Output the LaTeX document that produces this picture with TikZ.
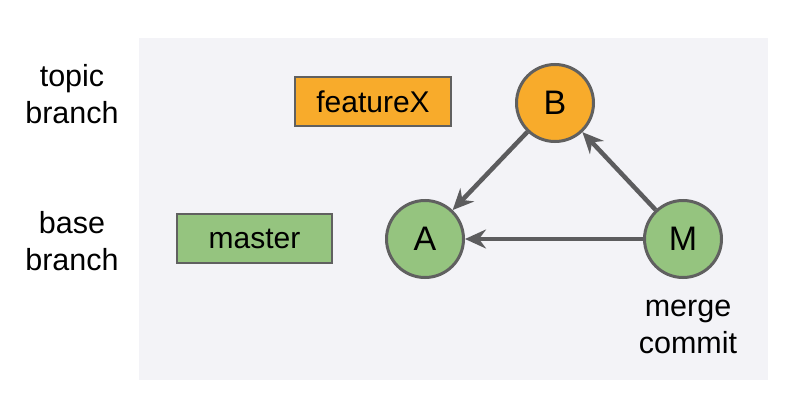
\documentclass[tikz,border=0pt]{standalone}
\usepackage{fontspec}
\setmainfont{Liberation Sans}
\usetikzlibrary{arrows.meta}
\definecolor{panel}{HTML}{F3F3F7}
\definecolor{orangefill}{HTML}{F8AB2B}
\definecolor{greenfill}{HTML}{95C47F}
\definecolor{edgegray}{HTML}{5C5C5E}
\definecolor{bordergray}{HTML}{606060}
\begin{document}
\begin{tikzpicture}[x=1pt,y=-1pt,
  commit/.style={circle,draw=bordergray,line width=3pt,minimum size=77pt,inner sep=0pt,font=\fontsize{34}{38}\selectfont},
  label/.style={rectangle,draw=bordergray,line width=2.5pt,inner sep=0pt,font=\fontsize{30}{34}\selectfont},
  side/.style={align=center,font=\fontsize{30.5}{37}\selectfont},
  link/.style={draw=edgegray,line width=4.5pt,-{Stealth[length=21pt,width=19pt,inset=7pt]}}]
\useasboundingbox (0,0) rectangle (808,412);
\fill[panel] (139,38) rectangle (768,380);
\node[label,fill=orangefill,minimum width=156pt,minimum height=49pt] (fx) at (373,101.5) {featureX};
\node[label,fill=greenfill,minimum width=155pt,minimum height=49pt] (ms) at (254.5,238.5) {master};
\node[commit,fill=orangefill] (B) at (555,103) {B};
\node[commit,fill=greenfill] (A) at (425,239) {A};
\node[commit,fill=greenfill] (M) at (683,239) {M};
\node[side] (tb) at (72,94) {topic\\branch};
\node[side] (bb) at (72,241) {base\\branch};
\node[side] (mc) at (688,327) {merge\\commit};
\draw[link] (B) -- (A);
\draw[link] (M) -- (B);
\draw[link] (M) -- (A);
\end{tikzpicture}
\end{document}
